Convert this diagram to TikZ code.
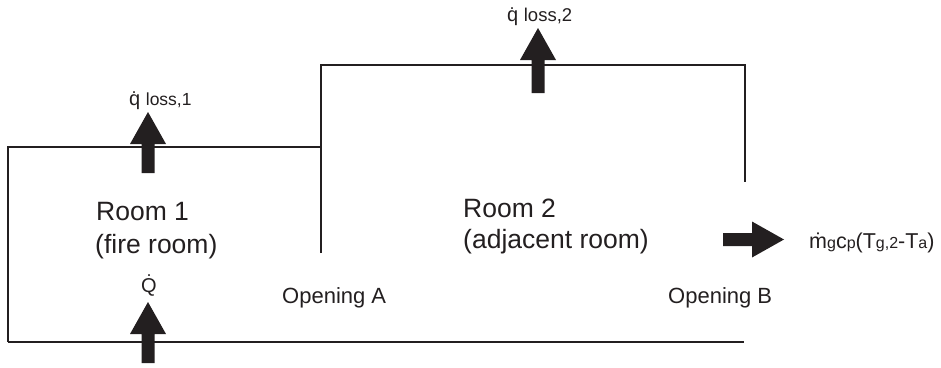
\documentclass[tikz,border=0pt]{standalone}
\usepackage{fontspec}
\setmainfont{Liberation Sans}
\definecolor{ink}{RGB}{35,31,32}
\newcommand{\bigf}{\fontsize{21.5}{25}\selectfont}
\newcommand{\smlf}{\fontsize{16}{19}\selectfont}
\tikzset{
  wall/.style={draw=ink, line width=2.4pt, line join=miter, line cap=butt},
  pics/fatarrow/.style={code={
    \fill[ink] (-6.5,0) -- (-6.5,-#1+32) -- (-18,-#1+32) -- (0,-#1) -- (18,-#1+32) -- (6.5,-#1+32) -- (6.5,0) -- cycle;}},
  lbl/.style={inner sep=0pt, anchor=base west, text=ink},
  roomtxt/.style={lbl, font=\fontsize{26.5}{32}\selectfont},
  opentxt/.style={lbl, font=\fontsize{22}{26}\selectfont},
}
\begin{document}
\begin{tikzpicture}[x=1pt, y=-1pt]
\useasboundingbox (0,0) rectangle (941,367);
% walls
\coordinate (r1bl) at (8,342);
\coordinate (r1tl) at (8,147);
\coordinate (r1tr) at (321,147);
\coordinate (wAb) at (321,253);
\coordinate (r2tl) at (321,65);
\coordinate (r2tr) at (745,65);
\coordinate (wBb) at (745,182);
\coordinate (floorR) at (744,342);
\draw[wall] (r1bl) -- (r1tl) -- (r1tr);
\draw[wall] (wAb) -- (r2tl) -- (r2tr) -- (wBb);
\draw[wall] (r1bl) -- (floorR);
% arrows
\coordinate (aq1) at (148,173);
\coordinate (aQ) at (148,363);
\coordinate (aq2) at (538,93);
\coordinate (am) at (723,239.5);
\pic at (aq1) {fatarrow=61};
\pic at (aQ) {fatarrow=61};
\pic at (aq2) {fatarrow=65};
\pic[rotate=-90] at (am) {fatarrow=61};
% labels
\node[lbl, font=\fontsize{20}{24}\selectfont] (q1) at (129,105) {\.{q} \fontsize{17.5}{21}\selectfont loss,1};
\node[lbl, font=\fontsize{20}{24}\selectfont] (q2) at (507,21) {\.{q} \fontsize{18.5}{21}\selectfont loss,2};
\node[lbl, anchor=base, font=\fontsize{20}{24}\selectfont] (Q) at (149,292) {\.{Q}};
\node[roomtxt] (room1) at (96,220) {Room 1};
\node[roomtxt] (fire) at (95,253) {(fire room)};
\node[roomtxt] (room2) at (463,217) {Room 2};
\node[roomtxt] (adj) at (463,248) {(adjacent room)};
\node[opentxt] (opA) at (282,303) {Opening A};
\node[opentxt] (opB) at (668,303) {Opening B};
\node[lbl, font=\bigf] (mdot) at (809,248) {\.{m}\smlf g\bigf c\smlf p\bigf(T\smlf g,2\bigf-T\smlf a\bigf)};
\end{tikzpicture}
\end{document}
